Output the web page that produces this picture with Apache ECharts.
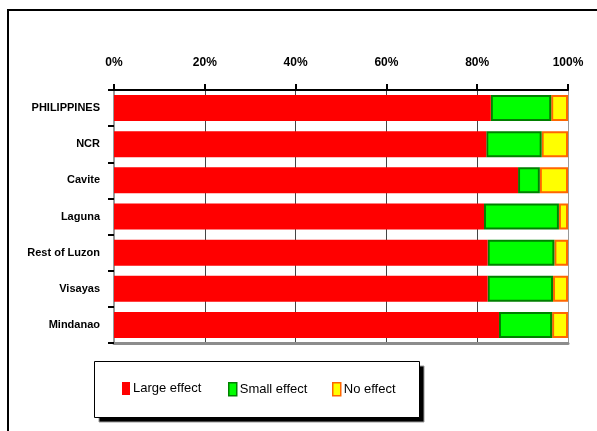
<!DOCTYPE html>
<html>
<head>
<meta charset="utf-8">
<script src="https://cdn.jsdelivr.net/npm/echarts@6/dist/echarts.min.js"></script>
<style>
  html, body { margin: 0; padding: 0; background: #fff; }
  #chart { width: 597px; height: 431px; }
</style>
</head>
<body>
<div id="chart"></div>
<script>
// Regions, top to bottom
const categories = ['PHILIPPINES', 'NCR', 'Cavite', 'Laguna', 'Rest of Luzon', 'Visayas', 'Mindanao'];

// Share of respondents (%) per effect level
const largeEffect = [83.0, 82.0, 89.0, 81.5, 82.3, 82.3, 84.8];
const smallEffect = [13.3, 12.2, 4.8, 16.5, 14.7, 14.4, 11.7];
const noEffect    = [3.7, 5.8, 6.2, 2.0, 3.0, 3.3, 3.5];

const seriesNames = ['Large effect', 'Small effect', 'No effect'];

const FONT = "'Liberation Sans', Arial, sans-serif";

const chart = echarts.init(document.getElementById('chart'), null, { renderer: 'canvas' });

const styles = [
  { color: '#ff0000', borderColor: '#ff0000', borderWidth: 0 },
  { color: '#00ff00', borderColor: '#008000', borderWidth: 2 },
  { color: '#ffff00', borderColor: '#ff6600', borderWidth: 2 }
];
const values = [largeEffect, smallEffect, noEffect];

const legendLefts = [122, 228, 332];

const option = {
  backgroundColor: '#ffffff',
  animation: false,
  grid: { left: 114, right: 29, top: 90, bottom: 88, containLabel: false },
  xAxis: [
    {
      type: 'value',
      position: 'top',
      min: 0,
      max: 100,
      interval: 20,
      axisLine: { show: true, lineStyle: { color: '#000', width: 2 } },
      axisTick: { show: true, length: 6, lineStyle: { color: '#000', width: 2 } },
      axisLabel: {
        formatter: '{value}%',
        margin: 21,
        color: '#000',
        fontFamily: FONT,
        fontWeight: 'bold',
        fontSize: 12
      },
      splitLine: {
        show: true,
        lineStyle: { color: ['#444', '#444', '#444', '#444', '#444', '#999'], width: 1 }
      }
    },
    {
      // bottom edge of the plot area
      type: 'value',
      position: 'bottom',
      min: 0,
      max: 100,
      axisLine: { show: true, lineStyle: { color: '#8c8c8c', width: 3 } },
      axisTick: { show: false },
      axisLabel: { show: false },
      splitLine: { show: false }
    }
  ],
  yAxis: [
    {
      type: 'category',
      data: categories,
      inverse: true,
      axisLine: { show: true, lineStyle: { color: '#000', width: 2 } },
      axisTick: { show: true, length: 6, lineStyle: { color: '#000', width: 2 } },
      axisLabel: {
        margin: 14,
        color: '#000',
        fontFamily: FONT,
        fontWeight: 'bold',
        fontSize: 11
      },
      splitLine: { show: false }
    },
    {
      // right edge of the plot area
      type: 'category',
      data: categories,
      inverse: true,
      position: 'right',
      axisLine: { show: true, lineStyle: { color: '#999', width: 2 } },
      axisTick: { show: false },
      axisLabel: { show: false },
      splitLine: { show: false }
    }
  ],
  legend: legendLefts.map((left, i) => ({
    data: [seriesNames[i]],
    left: left,
    top: 382,
    padding: 0,
    itemWidth: 8,
    itemHeight: 13,
    icon: 'rect',
    selectedMode: false,
    itemStyle: {
      color: styles[i].color,
      borderColor: styles[i].borderColor,
      borderWidth: i === 0 ? 0 : 1.5
    },
    textStyle: { color: '#000', fontFamily: FONT, fontSize: 13, padding: [0, 0, 0, -2] }
  })),
  series: seriesNames.map((name, i) => ({
    name: name,
    type: 'bar',
    stack: 'total',
    xAxisIndex: 0,
    yAxisIndex: 0,
    barWidth: 26,
    data: values[i],
    itemStyle: styles[i],
    emphasis: { disabled: true },
    z: 3 - i
  })),
  graphic: [
    // outer frame (left and top)
    {
      type: 'polyline',
      shape: { points: [[8, 431], [8, 10], [597, 10]] },
      style: { stroke: '#000', lineWidth: 2, fill: null },
      silent: true
    },
    // legend box drop shadow
    {
      type: 'rect',
      shape: { x: 99, y: 366, width: 325, height: 56 },
      style: { fill: '#000', stroke: '#9a9a9a', lineWidth: 1 },
      z: -2,
      silent: true
    },
    // legend box
    {
      type: 'rect',
      shape: { x: 94.5, y: 361.5, width: 325, height: 56 },
      style: { fill: '#fff', stroke: '#000', lineWidth: 1 },
      z: -1,
      silent: true
    }
  ]
};

chart.setOption(option);
</script>
</body>
</html>
